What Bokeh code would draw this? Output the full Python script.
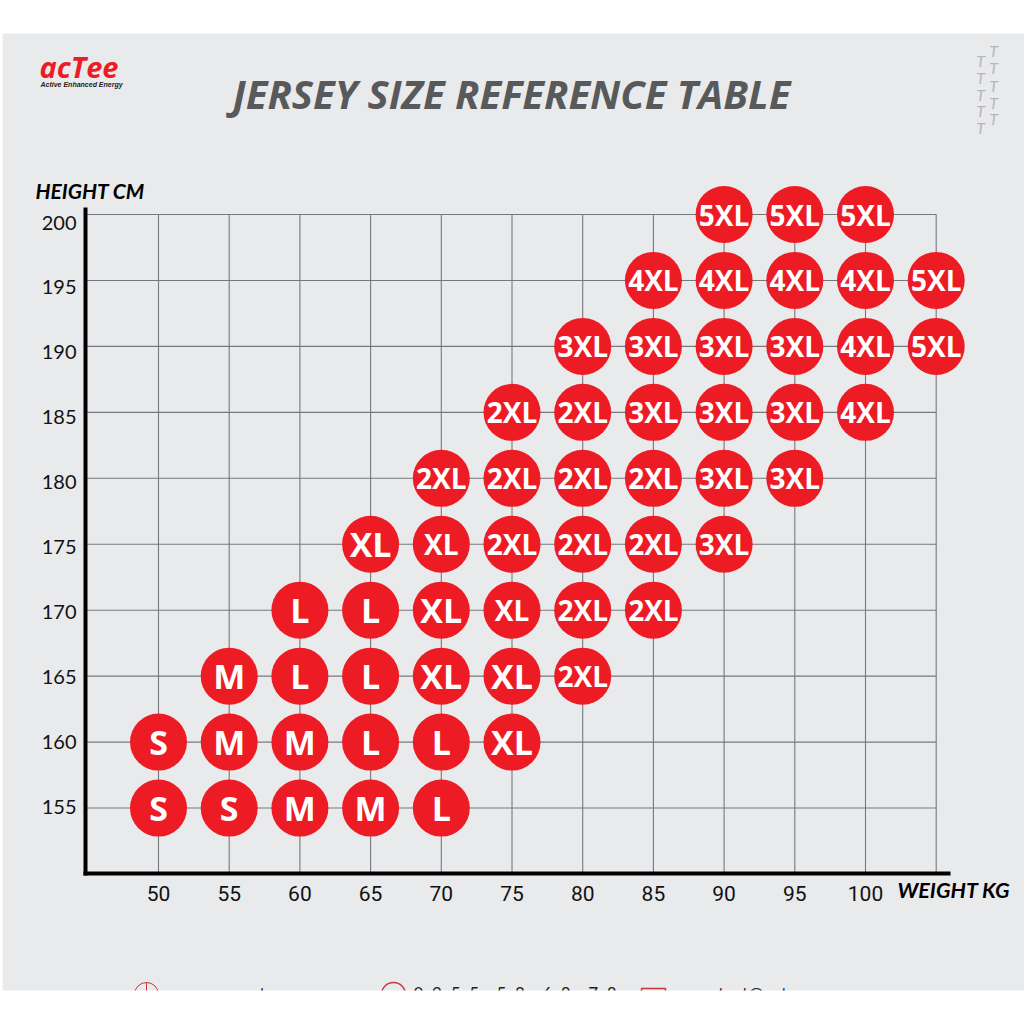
from bokeh.plotting import figure
from bokeh.models import ColumnDataSource, Range1d, LinearAxis, FixedTicker
from bokeh.core.properties import value
from bokeh.embed import file_html
from bokeh.resources import INLINE

weights = [50, 55, 60, 65, 70, 75, 80, 85, 90, 95, 100, 105]
weight_ticks = [50, 55, 60, 65, 70, 75, 80, 85, 90, 95, 100]
heights = [155, 160, 165, 170, 175, 180, 185, 190, 195, 200]

row_155 = {50: "S", 55: "S", 60: "M", 65: "M", 70: "L"}
row_160 = {50: "S", 55: "M", 60: "M", 65: "L", 70: "L", 75: "XL"}
row_165 = {55: "M", 60: "L", 65: "L", 70: "XL", 75: "XL", 80: "2XL"}
row_170 = {60: "L", 65: "L", 70: "XL", 75: "XL", 80: "2XL", 85: "2XL"}
row_175 = {65: "XL", 70: "XL", 75: "2XL", 80: "2XL", 85: "2XL", 90: "3XL"}
row_180 = {70: "2XL", 75: "2XL", 80: "2XL", 85: "2XL", 90: "3XL", 95: "3XL"}
row_185 = {75: "2XL", 80: "2XL", 85: "3XL", 90: "3XL", 95: "3XL", 100: "4XL"}
row_190 = {80: "3XL", 85: "3XL", 90: "3XL", 95: "3XL", 100: "4XL", 105: "5XL"}
row_195 = {85: "4XL", 90: "4XL", 95: "4XL", 100: "4XL", 105: "5XL"}
row_200 = {90: "5XL", 95: "5XL", 100: "5XL"}
rows = [row_155, row_160, row_165, row_170, row_175, row_180, row_185, row_190, row_195, row_200]
small_xl = [(70, 175), (75, 170)]

RED = "#ED1C24"
PANEL = "#E9EAEC"
W, H = 1024, 1024

xs_per = 14.14
ys_per = 13.19
def dx(px):
    return 50 + (px - 158) / xs_per
def dy(py):
    return 200 + (214 - py) / ys_per
def dy2(py):          # scale of the printed height labels
    return 200 + (222 - py) / 12.98

p = figure(width=W, height=H, output_backend="svg", toolbar_location=None,
           x_range=Range1d(dx(2), dx(1024)), y_range=Range1d(dy(990), dy(33)),
           min_border_left=2, min_border_right=0, min_border_top=33, min_border_bottom=H - 990,
           background_fill_color=PANEL, border_fill_color="white",
           x_axis_type=None, y_axis_type=None, outline_line_color=None)
p.grid.visible = False
p.extra_y_ranges = {"labels": Range1d(dy2(990), dy2(33))}

x0 = dx(85)
y0 = dy(873)
p.segment(x0=weights, x1=weights, y0=[y0] * len(weights), y1=[200] * len(weights),
          line_color="#77787B", line_width=1.1)
p.segment(x0=[x0] * len(heights), x1=[105] * len(heights), y0=heights, y1=heights,
          line_color="#77787B", line_width=1.1)

xaxis = LinearAxis(fixed_location=y0, ticker=FixedTicker(ticks=weight_ticks), bounds=(dx(83), dx(950)),
                   axis_line_color="black", axis_line_width=4, major_tick_line_color=None,
                   minor_tick_line_color=None, major_label_standoff=6,
                   major_label_text_font="Roboto", major_label_text_font_size="21px",
                   major_label_text_color="#111111")
p.add_layout(xaxis, "below")
yaxis = LinearAxis(fixed_location=x0, ticker=FixedTicker(ticks=[]), bounds=(y0 - 0.15, dy(207)),
                   axis_line_color="black", axis_line_width=4, major_tick_line_color=None,
                   minor_tick_line_color=None, major_label_text_font_size="0px")
p.add_layout(yaxis, "left")
ylabels = LinearAxis(fixed_location=x0, y_range_name="labels", ticker=FixedTicker(ticks=heights),
                     axis_line_color=None, major_tick_line_color=None, minor_tick_line_color=None,
                     major_label_standoff=3, major_label_text_font="Lato", major_label_text_font_size="20px",
                     major_label_text_color="#111111")
p.add_layout(ylabels, "left")

cx, cy, lab, fs = [], [], [], []
for h, row in zip(heights, rows):
    for w, s in row.items():
        cx.append(w)
        cy.append(h)
        lab.append(s)
        fs.append("28px" if (w, h) in small_xl or len(s) == 3 else "34px")
src = ColumnDataSource(dict(x=cx, y=cy, t=lab, fs=fs))
p.scatter("x", "y", source=src, size=57, marker="circle", fill_color=RED, line_color=None)
p.text("x", "y", text="t", source=src, text_color="white", text_font=value("Open Sans"),
       text_font_style="bold", text_font_size="fs", text_align="center", text_baseline="middle")

def label(px, py, text, size, color="black", font="Lato", style="normal", align="left"):
    # py is the wanted baseline; the renderer sets alphabetic text about 0.42 em low
    shift = 0.42 * float(size[:-2])
    p.text([dx(px)], [dy(py - shift)], text=[text], text_font=value(font), text_font_size=size, text_color=color,
           text_font_style=style, text_align=align, text_baseline="alphabetic")

label(232, 110, "JERSEY SIZE REFERENCE TABLE", "40px", "#58595B", "Open Sans", "bold italic")
label(35, 199, "HEIGHT CM", "21px", "black", "Lato", "bold italic")
label(897, 899, "WEIGHT KG", "21.5px", "black", "Lato", "bold italic")
label(39, 78, "acTee", "29px", RED, "Open Sans", "bold italic")
label(40, 87, "Active Enhanced Energy", "7px", "#222222", "Liberation Sans", "bold italic")

for mx, my in [(993, 57), (980, 67), (993, 74), (980, 84), (993, 92), (980, 101),
               (993, 109), (980, 117), (993, 125), (980, 134)]:
    label(mx, my, "T", "16px", "#B4B6B9", "Lato", "italic", "center")

nb = "\u00a0"
gap = nb * 4
phone = (nb * 2).join("0955") + gap + (nb * 2).join("58") + gap + (nb * 2).join("68") + gap + (nb * 2).join("78")
label(195, 1000, "www.actee.vn", "18px", "#222222")
label(413, 1000, phone, "17px", "#222222")
label(689, 1000, "contact@actee.vn", "18px", "#222222")
p.scatter([dx(146)], [dy(994)], size=24, marker="circle_cross", fill_color=None, line_color="#C9353A", line_width=1)
p.scatter([dx(393)], [dy(994)], size=24, marker="circle", fill_color=None, line_color="#C9353A", line_width=1.5)
p.scatter([dx(653)], [dy(1000)], size=24, marker="square", fill_color=None, line_color="#C9353A", line_width=1.5)

open("out.html", "w").write(file_html(p, INLINE))
